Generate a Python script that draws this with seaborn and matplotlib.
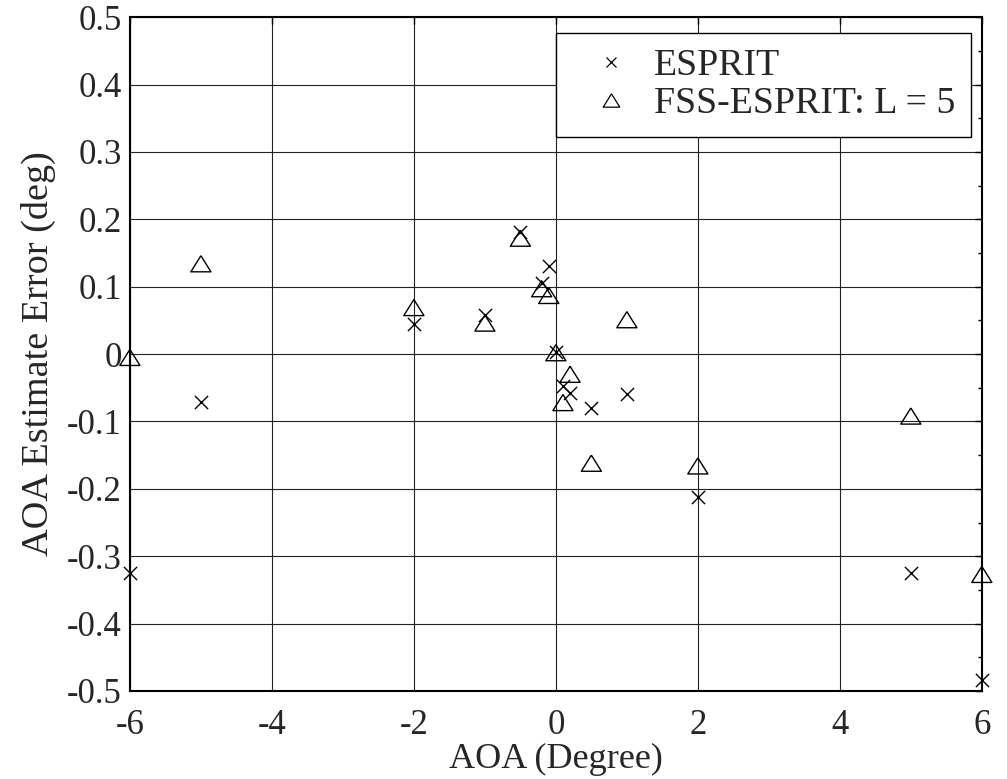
import numpy as np
import pandas as pd
import seaborn as sns
import matplotlib
matplotlib.use("Agg")
import matplotlib.pyplot as plt
from matplotlib.lines import Line2D

# ESPRIT estimates
esprit_x = [-6, -5, -2, -1, -0.5, -0.2, -0.1, 0, 0.1, 0.2, 0.5, 1, 2, 5, 6]
esprit_y = [-0.325, -0.071, 0.045, 0.058, 0.181, 0.105, 0.130, 0.003, -0.047, -0.058, -0.080, -0.060, -0.212, -0.325, -0.484]

# FSS-ESPRIT (L = 5) estimates
fss_x = [-6, -5, -2, -1, -0.5, -0.2, -0.1, 0, 0.1, 0.2, 0.5, 1, 2, 5, 6]
fss_y = [-0.005, 0.134, 0.069, 0.046, 0.172, 0.097, 0.087, 0.002, -0.072, -0.030, -0.162, 0.051, -0.166, -0.092, -0.327]

x_ticks = [-6, -4, -2, 0, 2, 4, 6]
y_ticks = [-0.5, -0.4, -0.3, -0.2, -0.1, 0, 0.1, 0.2, 0.3, 0.4, 0.5]
y_tick_labels = ["-0.5", "-0.4", "-0.3", "-0.2", "-0.1", "0", "0.1", "0.2", "0.3", "0.4", "0.5"]
legend_labels = ["ESPRIT", "FSS-ESPRIT: L = 5"]

sns.set_style("white")
plt.rcParams['font.family'] = ['Liberation Serif', 'DejaVu Serif']

fig = plt.figure(figsize=(10.07, 7.79), dpi=100)
ax = fig.add_axes([0.129, 0.113, 0.846, 0.865])

tri = [(0, 0.8), (-1, -0.8), (1, -0.8), (0, 0.8)]

df_e = pd.DataFrame({"AOA": esprit_x, "err": esprit_y})
df_f = pd.DataFrame({"AOA": fss_x, "err": fss_y})

sns.scatterplot(data=df_e, x="AOA", y="err", marker="x", color="black",
                s=90, linewidth=1.0, ax=ax, legend=False, zorder=3, clip_on=False)
sns.scatterplot(data=df_f, x="AOA", y="err", marker=tri, s=210,
                facecolor="none", edgecolor="black", linewidth=1.0,
                ax=ax, legend=False, zorder=3, clip_on=False)
for coll in ax.collections[1:]:
    coll.set_facecolor("none")
    coll.set_edgecolor("black")

ax.set_xlim(-6, 6)
ax.set_ylim(-0.5, 0.5)
ax.set_xticks(x_ticks)
ax.set_xticklabels([str(v) for v in x_ticks])
ax.set_yticks(y_ticks)
ax.set_yticklabels(y_tick_labels)
ax.set_yticks(np.arange(-0.45, 0.5, 0.1), minor=True)

ax.grid(True, which="major", color="#222222", linewidth=0.8, linestyle="-")
ax.set_axisbelow(True)
ax.tick_params(which="both", direction="in", top=True, right=True,
               labelsize=25, length=5, width=1, color="black")
ax.tick_params(axis="x", pad=13)
ax.tick_params(axis="y", pad=6)
ax.tick_params(which="minor", length=3)
for s in ax.spines.values():
    s.set_color("black")
    s.set_linewidth(1.5)

ax.set_xlabel("AOA (Degree)", fontsize=26, labelpad=1)
ax.set_ylabel("AOA Estimate Error (deg)", fontsize=27.5, labelpad=8)

handles = [
    Line2D([], [], marker="x", linestyle="none", color="black", markersize=7, markeredgewidth=0.9),
    Line2D([], [], marker=tri, linestyle="none", markerfacecolor="none",
           markeredgecolor="black", markersize=12, markeredgewidth=0.9),
]
leg = ax.legend(handles, legend_labels, loc="upper right",
                bbox_to_anchor=(0.987, 0.976), borderaxespad=0,
                fontsize=27.3, frameon=True, fancybox=False, framealpha=1,
                edgecolor="black", handlelength=2.1,
                handletextpad=0.1, borderpad=0.4, labelspacing=0.1)
leg.get_frame().set_linewidth(1.0)

fig.savefig("out.png", dpi=100)
